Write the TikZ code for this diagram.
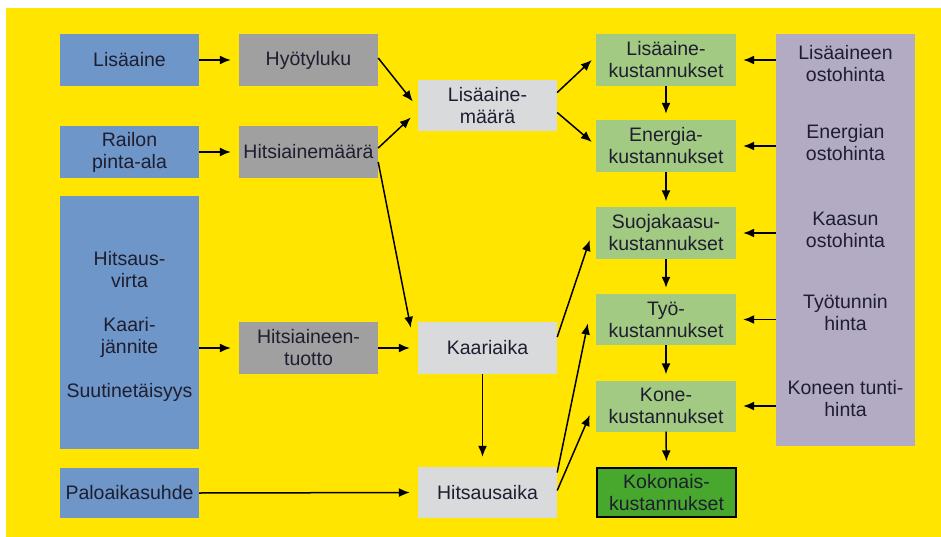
\documentclass[tikz,border=0pt]{standalone}
\usepackage{fontspec}
\setmainfont{Liberation Sans}
\usetikzlibrary{arrows.meta,calc}
\definecolor{bgyellow}{RGB}{255,229,0}
\definecolor{cblue}{RGB}{110,150,200}
\definecolor{cgray}{RGB}{160,160,160}
\definecolor{clgray}{RGB}{217,218,220}
\definecolor{clgreen}{RGB}{162,202,130}
\definecolor{cdgreen}{RGB}{72,168,45}
\definecolor{cpurple}{RGB}{179,170,196}
\definecolor{ctext}{RGB}{30,30,48}
\tikzset{
  box/.style={inner sep=0pt, align=center, text=ctext, minimum width=139pt, minimum height=52pt,
    font=\fontsize{19.5}{22}\selectfont},
  bluebox/.style={box, fill=cblue},
  graybox/.style={box, fill=cgray},
  lgraybox/.style={box, fill=clgray},
  greenbox/.style={box, fill=clgreen, minimum width=140pt},
  dgreenbox/.style={box, fill=cdgreen, draw=black, line width=1.3pt, minimum width=139pt, minimum height=49pt},
  txt/.style={inner sep=0pt, align=center, text=ctext, font=\fontsize{19.5}{22}\selectfont},
  arr/.style={line width=1.5pt, -{Latex[length=11pt,width=9pt]}, shorten >=8pt},
  arrs/.style={line width=1.5pt, -{Latex[length=11pt,width=9pt]}},
}
\begin{document}
\begin{tikzpicture}[x=1pt,y=-1pt]
\useasboundingbox (0,0) rectangle (941,537);
\fill[bgyellow] (6,8) rectangle (941,537);
% left column
\node[bluebox] (lis) at (129.5,60) {Lisäaine};
\node[bluebox] (rai) at (129.5,152) {Railon\\pinta-ala};
\node[bluebox, minimum height=253pt] (hv) at (129.5,322.5) {};
\node[txt] (hvt) at (129.5,326.5) {Hitsaus-\\virta\\[22pt]Kaari-\\jännite\\[22pt]Suutinetäisyys};
\node[bluebox, minimum height=50pt] (pal) at (129.5,493) {Paloaikasuhde};
% second column
\node[graybox] (hyo) at (308.5,60) {Hyötyluku};
\node[graybox] (hm) at (308.5,152) {Hitsiainemäärä};
\node[graybox] (ht) at (308.5,348) {Hitsiaineen-\\tuotto};
% third column
\node[lgraybox, minimum height=51pt] (lm) at (487.5,105.5) {Lisäaine-\\määrä};
\node[lgraybox] (ka) at (487.5,348) {Kaariaika};
\node[lgraybox, minimum height=51pt] (ha) at (487.5,492.5) {Hitsausaika};
% green column
\node[greenbox] (g1) at (666,60) {Lisäaine-\\kustannukset};
\node[greenbox] (g2) at (666,146) {Energia-\\kustannukset};
\node[greenbox, minimum height=51pt] (g3) at (666,233) {Suojakaasu-\\kustannukset};
\node[greenbox, minimum height=51pt] (g4) at (666,319.5) {Työ-\\kustannukset};
\node[greenbox, minimum height=51pt] (g5) at (666,406) {Kone-\\kustannukset};
\node[dgreenbox] (g6) at (666.5,492.5) {Kokonais-\\kustannukset};
% purple column
\node[box, fill=cpurple, minimum height=412pt] (pu) at (845.5,240) {};
\node[txt] (p1) at (845.5,64) {Lisäaineen\\ostohinta};
\node[txt] (p2) at (845.5,143) {Energian\\ostohinta};
\node[txt] (p3) at (845.5,230) {Kaasun\\ostohinta};
\node[txt] (p4) at (845.5,313) {Työtunnin\\hinta};
\node[txt] (p5) at (845.5,399) {Koneen tunti-\\hinta};
% arrows left part
\draw[arr] (lis.east) -- (hyo.west);
\draw[arr] (rai.east) -- (hm.west);
\draw[arr] (hv.east |- ht.west) -- (ht.west);
\draw[arr] (pal.east) -- (ha.west);
\draw[arrs] ($(hyo.east)+(0,-2)$) -- ($(lm.west)+(-5,-4)$);
\draw[arrs] ($(hm.east)+(0,-4)$) -- ($(lm.west)+(-7,12)$);
\draw[arrs] ($(hm.east)+(0,10)$) -- ($(ka.north west)+(-7,6)$);
\draw[arr] (ht.east) -- (ka.west);
\draw[arr, shorten >=10pt] ($(ka.south)+(-5,0)$) -- ($(ha.north)+(-5,0)$);
% arrows to green
\draw[arrs] ($(lm.east)+(0,-13)$) -- ($(g1.west)+(-4,0)$);
\draw[arrs] ($(lm.east)+(0,7)$) -- ($(g2.west)+(-4,-4)$);
\draw[arrs] ($(ka.east)+(0,-11)$) -- ($(g3.west)+(-6,7)$);
\draw[arrs] ($(ha.east)+(0,-20)$) -- ($(g4.west)+(-8,4)$);
\draw[arrs] ($(ha.east)+(0,-2)$) -- ($(g5.west)+(-6,9)$);
% green chain
\draw[arr, shorten >=6pt] (g1.south) -- (g2.north);
\draw[arr, shorten >=6pt] (g2.south) -- (g3.north);
\draw[arr, shorten >=6pt] (g3.south) -- (g4.north);
\draw[arr, shorten >=6pt] (g4.south) -- (g5.north);
\draw[arr, shorten >=6pt] (g5.south) -- (g6.north);
% purple to green
\draw[arr, shorten >=7pt] (pu.west |- g1.east) -- (g1.east);
\draw[arr, shorten >=7pt] (pu.west |- g2.east) -- (g2.east);
\draw[arr, shorten >=7pt] (pu.west |- g3.east) -- (g3.east);
\draw[arr, shorten >=7pt] (pu.west |- g4.east) -- (g4.east);
\draw[arr, shorten >=7pt] (pu.west |- g5.east) -- (g5.east);
\end{tikzpicture}
\end{document}
